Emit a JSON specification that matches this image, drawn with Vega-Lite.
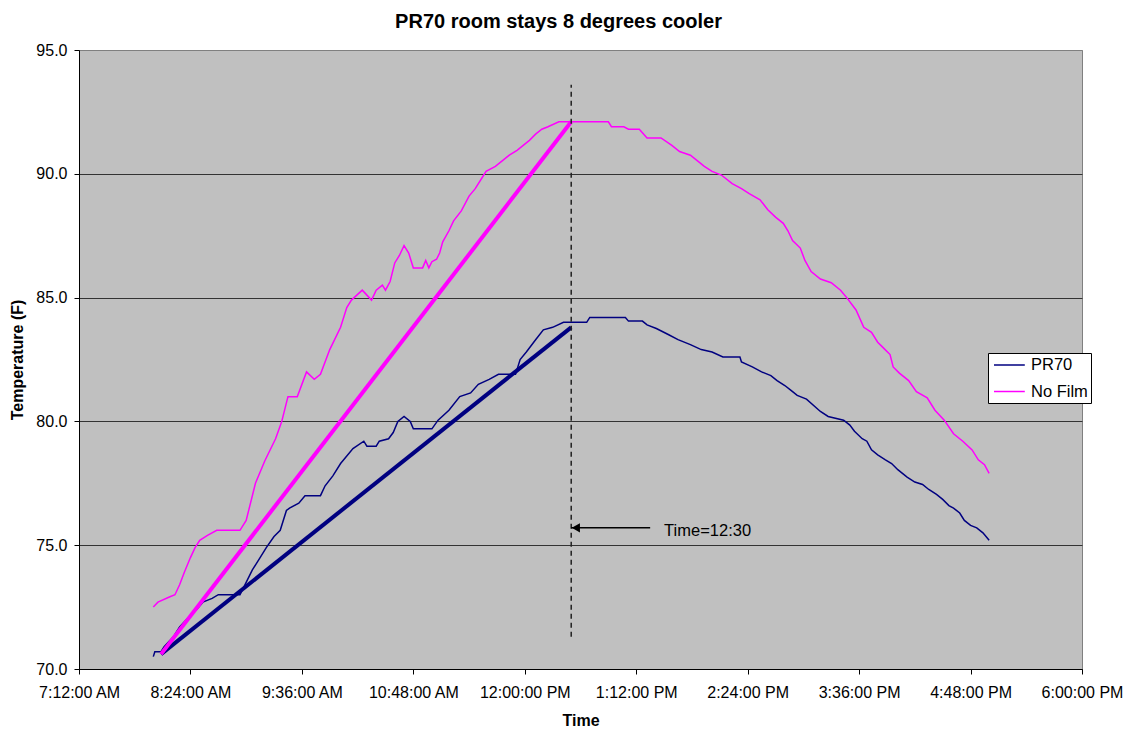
{
  "$schema": "https://vega.github.io/schema/vega-lite/v6.json",
  "width": 1003,
  "height": 619,
  "autosize": {"type": "none"},
  "padding": {"left": 79, "top": 50, "right": 53, "bottom": 65},
  "background": "white",
  "title": {"text": "PR70 room stays 8 degrees cooler", "font": "Liberation Sans", "fontSize": 20, "fontWeight": "bold", "color": "black", "anchor": "middle", "dx": -22, "offset": 10},
  "config": {
    "view": {"fill": "#C0C0C0", "stroke": "#808080", "strokeWidth": 1},
    "font": "Liberation Sans",
    "axis": {"labelFont": "Liberation Sans", "titleFont": "Liberation Sans", "labelFontSize": 16, "titleFontSize": 16, "titleFontWeight": "bold", "labelColor": "black", "titleColor": "black", "tickColor": "black", "domainColor": "black", "tickSize": 5, "labelFlush": false, "labelOverlap": false}
  },
  "datasets": {
    "series": [
      {"t":"08:00","s":"PR70","v":70.5},{"t":"08:01","s":"PR70","v":70.7},{"t":"08:05","s":"PR70","v":70.7},{"t":"08:07","s":"PR70","v":70.9},
      {"t":"08:13","s":"PR70","v":71.3},{"t":"08:17","s":"PR70","v":71.7},{"t":"08:23","s":"PR70","v":72.1},{"t":"08:28","s":"PR70","v":72.4},
      {"t":"08:32","s":"PR70","v":72.7},{"t":"08:38","s":"PR70","v":72.85},{"t":"08:42","s":"PR70","v":73.0},{"t":"08:56","s":"PR70","v":73.0},
      {"t":"09:00","s":"PR70","v":73.5},{"t":"09:04","s":"PR70","v":74.0},{"t":"09:09","s":"PR70","v":74.5},{"t":"09:13","s":"PR70","v":74.9},
      {"t":"09:18","s":"PR70","v":75.35},{"t":"09:22","s":"PR70","v":75.6},{"t":"09:26","s":"PR70","v":76.4},{"t":"09:28","s":"PR70","v":76.5},
      {"t":"09:34","s":"PR70","v":76.7},{"t":"09:38","s":"PR70","v":77.0},{"t":"09:48","s":"PR70","v":77.0},{"t":"09:51","s":"PR70","v":77.4},
      {"t":"09:56","s":"PR70","v":77.8},{"t":"10:01","s":"PR70","v":78.3},{"t":"10:09","s":"PR70","v":78.9},{"t":"10:16","s":"PR70","v":79.2},
      {"t":"10:18","s":"PR70","v":79.0},{"t":"10:24","s":"PR70","v":79.0},{"t":"10:26","s":"PR70","v":79.2},{"t":"10:32","s":"PR70","v":79.3},
      {"t":"10:35","s":"PR70","v":79.55},{"t":"10:38","s":"PR70","v":80.0},{"t":"10:42","s":"PR70","v":80.2},{"t":"10:46","s":"PR70","v":80.0},
      {"t":"10:48","s":"PR70","v":79.7},{"t":"11:00","s":"PR70","v":79.7},{"t":"11:04","s":"PR70","v":80.05},{"t":"11:11","s":"PR70","v":80.45},
      {"t":"11:18","s":"PR70","v":81.0},{"t":"11:25","s":"PR70","v":81.15},{"t":"11:30","s":"PR70","v":81.5},{"t":"11:37","s":"PR70","v":81.7},
      {"t":"11:43","s":"PR70","v":81.9},{"t":"11:54","s":"PR70","v":81.9},{"t":"11:57","s":"PR70","v":82.5},{"t":"12:01","s":"PR70","v":82.8},
      {"t":"12:07","s":"PR70","v":83.3},{"t":"12:12","s":"PR70","v":83.7},{"t":"12:18","s":"PR70","v":83.8},{"t":"12:25","s":"PR70","v":84.0},
      {"t":"12:40","s":"PR70","v":84.0},{"t":"12:42","s":"PR70","v":84.2},{"t":"13:05","s":"PR70","v":84.2},{"t":"13:07","s":"PR70","v":84.05},
      {"t":"13:16","s":"PR70","v":84.05},{"t":"13:19","s":"PR70","v":83.9},{"t":"13:25","s":"PR70","v":83.75},{"t":"13:33","s":"PR70","v":83.5},
      {"t":"13:39","s":"PR70","v":83.3},{"t":"13:47","s":"PR70","v":83.1},{"t":"13:54","s":"PR70","v":82.9},{"t":"14:01","s":"PR70","v":82.8},
      {"t":"14:08","s":"PR70","v":82.6},{"t":"14:19","s":"PR70","v":82.6},{"t":"14:20","s":"PR70","v":82.4},{"t":"14:27","s":"PR70","v":82.2},
      {"t":"14:33","s":"PR70","v":82.0},{"t":"14:39","s":"PR70","v":81.85},{"t":"14:43","s":"PR70","v":81.65},{"t":"14:48","s":"PR70","v":81.45},
      {"t":"14:52","s":"PR70","v":81.25},{"t":"14:56","s":"PR70","v":81.05},{"t":"15:02","s":"PR70","v":80.9},{"t":"15:11","s":"PR70","v":80.4},
      {"t":"15:16","s":"PR70","v":80.2},{"t":"15:26","s":"PR70","v":80.05},{"t":"15:30","s":"PR70","v":79.85},{"t":"15:33","s":"PR70","v":79.6},
      {"t":"15:38","s":"PR70","v":79.3},{"t":"15:41","s":"PR70","v":79.2},{"t":"15:44","s":"PR70","v":78.85},{"t":"15:48","s":"PR70","v":78.65},
      {"t":"15:53","s":"PR70","v":78.45},{"t":"15:57","s":"PR70","v":78.3},{"t":"16:01","s":"PR70","v":78.05},{"t":"16:07","s":"PR70","v":77.75},
      {"t":"16:12","s":"PR70","v":77.55},{"t":"16:17","s":"PR70","v":77.45},{"t":"16:21","s":"PR70","v":77.25},{"t":"16:26","s":"PR70","v":77.05},
      {"t":"16:30","s":"PR70","v":76.85},{"t":"16:34","s":"PR70","v":76.6},{"t":"16:37","s":"PR70","v":76.5},{"t":"16:41","s":"PR70","v":76.3},
      {"t":"16:44","s":"PR70","v":76.0},{"t":"16:48","s":"PR70","v":75.8},{"t":"16:52","s":"PR70","v":75.7},{"t":"16:56","s":"PR70","v":75.5},
      {"t":"17:00","s":"PR70","v":75.2},
      {"t":"08:00","s":"No Film","v":72.5},{"t":"08:03","s":"No Film","v":72.7},{"t":"08:10","s":"No Film","v":72.9},{"t":"08:14","s":"No Film","v":73.0},
      {"t":"08:17","s":"No Film","v":73.4},{"t":"08:20","s":"No Film","v":73.9},{"t":"08:24","s":"No Film","v":74.5},{"t":"08:27","s":"No Film","v":74.9},
      {"t":"08:30","s":"No Film","v":75.2},{"t":"08:35","s":"No Film","v":75.4},{"t":"08:41","s":"No Film","v":75.6},{"t":"08:56","s":"No Film","v":75.6},
      {"t":"09:00","s":"No Film","v":76.0},{"t":"09:06","s":"No Film","v":77.5},{"t":"09:12","s":"No Film","v":78.4},{"t":"09:19","s":"No Film","v":79.3},
      {"t":"09:23","s":"No Film","v":80.0},{"t":"09:27","s":"No Film","v":81.0},{"t":"09:33","s":"No Film","v":81.0},{"t":"09:39","s":"No Film","v":82.0},
      {"t":"09:44","s":"No Film","v":81.7},{"t":"09:48","s":"No Film","v":81.9},{"t":"09:54","s":"No Film","v":82.9},{"t":"10:01","s":"No Film","v":83.8},
      {"t":"10:05","s":"No Film","v":84.6},{"t":"10:08","s":"No Film","v":84.9},{"t":"10:15","s":"No Film","v":85.3},{"t":"10:18","s":"No Film","v":85.1},
      {"t":"10:21","s":"No Film","v":84.9},{"t":"10:24","s":"No Film","v":85.3},{"t":"10:28","s":"No Film","v":85.5},{"t":"10:30","s":"No Film","v":85.3},
      {"t":"10:33","s":"No Film","v":85.65},{"t":"10:36","s":"No Film","v":86.4},{"t":"10:39","s":"No Film","v":86.7},{"t":"10:42","s":"No Film","v":87.1},
      {"t":"10:45","s":"No Film","v":86.8},{"t":"10:48","s":"No Film","v":86.2},{"t":"10:54","s":"No Film","v":86.2},{"t":"10:56","s":"No Film","v":86.5},
      {"t":"10:58","s":"No Film","v":86.2},{"t":"11:00","s":"No Film","v":86.45},{"t":"11:03","s":"No Film","v":86.55},{"t":"11:05","s":"No Film","v":86.8},
      {"t":"11:07","s":"No Film","v":87.25},{"t":"11:11","s":"No Film","v":87.7},{"t":"11:14","s":"No Film","v":88.1},{"t":"11:19","s":"No Film","v":88.5},
      {"t":"11:24","s":"No Film","v":89.1},{"t":"11:28","s":"No Film","v":89.4},{"t":"11:32","s":"No Film","v":89.8},{"t":"11:35","s":"No Film","v":90.1},
      {"t":"11:41","s":"No Film","v":90.3},{"t":"11:45","s":"No Film","v":90.5},{"t":"11:50","s":"No Film","v":90.75},{"t":"11:55","s":"No Film","v":90.95},
      {"t":"11:59","s":"No Film","v":91.15},{"t":"12:03","s":"No Film","v":91.35},{"t":"12:07","s":"No Film","v":91.6},{"t":"12:11","s":"No Film","v":91.8},
      {"t":"12:15","s":"No Film","v":91.9},{"t":"12:22","s":"No Film","v":92.1},{"t":"12:54","s":"No Film","v":92.1},{"t":"12:56","s":"No Film","v":91.9},
      {"t":"13:04","s":"No Film","v":91.9},{"t":"13:07","s":"No Film","v":91.8},{"t":"13:14","s":"No Film","v":91.8},{"t":"13:19","s":"No Film","v":91.45},
      {"t":"13:28","s":"No Film","v":91.45},{"t":"13:35","s":"No Film","v":91.15},{"t":"13:40","s":"No Film","v":90.9},{"t":"13:47","s":"No Film","v":90.75},
      {"t":"13:52","s":"No Film","v":90.5},{"t":"13:56","s":"No Film","v":90.3},{"t":"14:01","s":"No Film","v":90.1},{"t":"14:07","s":"No Film","v":89.95},
      {"t":"14:14","s":"No Film","v":89.6},{"t":"14:20","s":"No Film","v":89.4},{"t":"14:25","s":"No Film","v":89.2},{"t":"14:32","s":"No Film","v":88.95},
      {"t":"14:37","s":"No Film","v":88.55},{"t":"14:42","s":"No Film","v":88.25},{"t":"14:47","s":"No Film","v":88.0},{"t":"14:50","s":"No Film","v":87.7},
      {"t":"14:53","s":"No Film","v":87.3},{"t":"14:58","s":"No Film","v":87.0},{"t":"15:01","s":"No Film","v":86.5},{"t":"15:05","s":"No Film","v":86.05},
      {"t":"15:11","s":"No Film","v":85.75},{"t":"15:18","s":"No Film","v":85.6},{"t":"15:24","s":"No Film","v":85.3},{"t":"15:28","s":"No Film","v":85.0},
      {"t":"15:34","s":"No Film","v":84.5},{"t":"15:39","s":"No Film","v":83.8},{"t":"15:44","s":"No Film","v":83.6},{"t":"15:48","s":"No Film","v":83.2},
      {"t":"15:52","s":"No Film","v":82.95},{"t":"15:56","s":"No Film","v":82.7},{"t":"15:58","s":"No Film","v":82.2},{"t":"16:02","s":"No Film","v":81.95},
      {"t":"16:08","s":"No Film","v":81.65},{"t":"16:13","s":"No Film","v":81.2},{"t":"16:20","s":"No Film","v":80.95},{"t":"16:25","s":"No Film","v":80.45},
      {"t":"16:31","s":"No Film","v":80.05},{"t":"16:37","s":"No Film","v":79.5},{"t":"16:43","s":"No Film","v":79.2},{"t":"16:49","s":"No Film","v":78.85},
      {"t":"16:53","s":"No Film","v":78.45},{"t":"16:57","s":"No Film","v":78.25},{"t":"17:00","s":"No Film","v":77.9}
    ],
    "trend": [
      {"t":"08:05","s":"PR70","v":70.6},{"t":"12:30","s":"PR70","v":83.8},
      {"t":"08:05","s":"No Film","v":70.6},{"t":"12:30","s":"No Film","v":92.1}
    ],
    "marker": [{"t":"12:30","v":71.3,"v2":93.6}],
    "arrow": [{"t":"12:30","tail":"13:21","v":75.7}],
    "arrowhead": [{"t":"12:33","v":75.7}],
    "note": [{"t":"13:30","v":75.7,"label":"Time=12:30"}]
  },
  "layer": [
    {
      "data": {"name": "series", "format": {"parse": {"t": "date:'%H:%M'"}}},
      "mark": {"type": "line", "strokeWidth": 1.5, "interpolate": "linear"},
      "encoding": {
        "x": {
          "field": "t", "type": "temporal", "title": "Time",
          "scale": {"domain": [{"year": 1900, "month": 1, "date": 1, "hours": 7, "minutes": 12}, {"year": 1900, "month": 1, "date": 1, "hours": 18, "minutes": 0}], "nice": false},
          "axis": {
            "values": [
              {"year": 1900, "month": 1, "date": 1, "hours": 7, "minutes": 12},
              {"year": 1900, "month": 1, "date": 1, "hours": 8, "minutes": 24},
              {"year": 1900, "month": 1, "date": 1, "hours": 9, "minutes": 36},
              {"year": 1900, "month": 1, "date": 1, "hours": 10, "minutes": 48},
              {"year": 1900, "month": 1, "date": 1, "hours": 12, "minutes": 0},
              {"year": 1900, "month": 1, "date": 1, "hours": 13, "minutes": 12},
              {"year": 1900, "month": 1, "date": 1, "hours": 14, "minutes": 24},
              {"year": 1900, "month": 1, "date": 1, "hours": 15, "minutes": 36},
              {"year": 1900, "month": 1, "date": 1, "hours": 16, "minutes": 48},
              {"year": 1900, "month": 1, "date": 1, "hours": 18, "minutes": 0}
            ],
            "format": "%-I:%M:%S %p", "grid": false, "labelPadding": 10, "titlePadding": 12
          }
        },
        "y": {
          "field": "v", "type": "quantitative", "title": "Temperature (F)",
          "scale": {"domain": [70, 95], "nice": false, "zero": false},
          "axis": {
            "values": [70, 75, 80, 85, 90, 95], "format": ".1f", "grid": true,
            "gridColor": {"condition": {"test": "datum.value === 95", "value": "#808080"}, "value": "#333333"},
            "gridWidth": 1, "gridOpacity": 1, "labelPadding": 7, "titlePadding": 10
          }
        },
        "color": {
          "field": "s", "type": "nominal",
          "scale": {"domain": ["PR70", "No Film"], "range": ["#000080", "#FF00FF"]},
          "legend": {"orient": "none", "legendX": 909, "legendY": 303, "title": null, "fillColor": "white", "strokeColor": "black", "padding": 3, "symbolType": "M-0.75,0H3.1", "symbolSize": 256, "symbolStrokeWidth": 1.5, "labelFontSize": 16.5, "labelFont": "Liberation Sans", "labelColor": "black", "rowPadding": 8.5, "labelOffset": 22}
        }
      }
    },
    {
      "data": {"name": "trend", "format": {"parse": {"t": "date:'%H:%M'"}}},
      "mark": {"type": "line", "strokeWidth": 4},
      "encoding": {
        "x": {"field": "t", "type": "temporal"},
        "y": {"field": "v", "type": "quantitative"},
        "color": {"field": "s", "type": "nominal"}
      }
    },
    {
      "data": {"name": "marker", "format": {"parse": {"t": "date:'%H:%M'"}}},
      "mark": {"type": "rule", "color": "#222222", "strokeWidth": 1.5, "strokeDash": [5, 4]},
      "encoding": {
        "x": {"field": "t", "type": "temporal"},
        "y": {"field": "v", "type": "quantitative"},
        "y2": {"field": "v2"}
      }
    },
    {
      "data": {"name": "arrow", "format": {"parse": {"t": "date:'%H:%M'", "tail": "date:'%H:%M'"}}},
      "mark": {"type": "rule", "color": "black", "strokeWidth": 1.5},
      "encoding": {
        "x": {"field": "t", "type": "temporal"},
        "x2": {"field": "tail"},
        "y": {"field": "v", "type": "quantitative"}
      }
    },
    {
      "data": {"name": "arrowhead", "format": {"parse": {"t": "date:'%H:%M'"}}},
      "mark": {"type": "point", "shape": "triangle-left", "filled": true, "color": "black", "size": 90, "opacity": 1},
      "encoding": {
        "x": {"field": "t", "type": "temporal"},
        "y": {"field": "v", "type": "quantitative"}
      }
    },
    {
      "data": {"name": "note", "format": {"parse": {"t": "date:'%H:%M'"}}},
      "mark": {"type": "text", "align": "left", "baseline": "middle", "fontSize": 16.5, "font": "Liberation Sans", "color": "black", "dy": 3},
      "encoding": {
        "x": {"field": "t", "type": "temporal"},
        "y": {"field": "v", "type": "quantitative"},
        "text": {"field": "label"}
      }
    }
  ]
}
